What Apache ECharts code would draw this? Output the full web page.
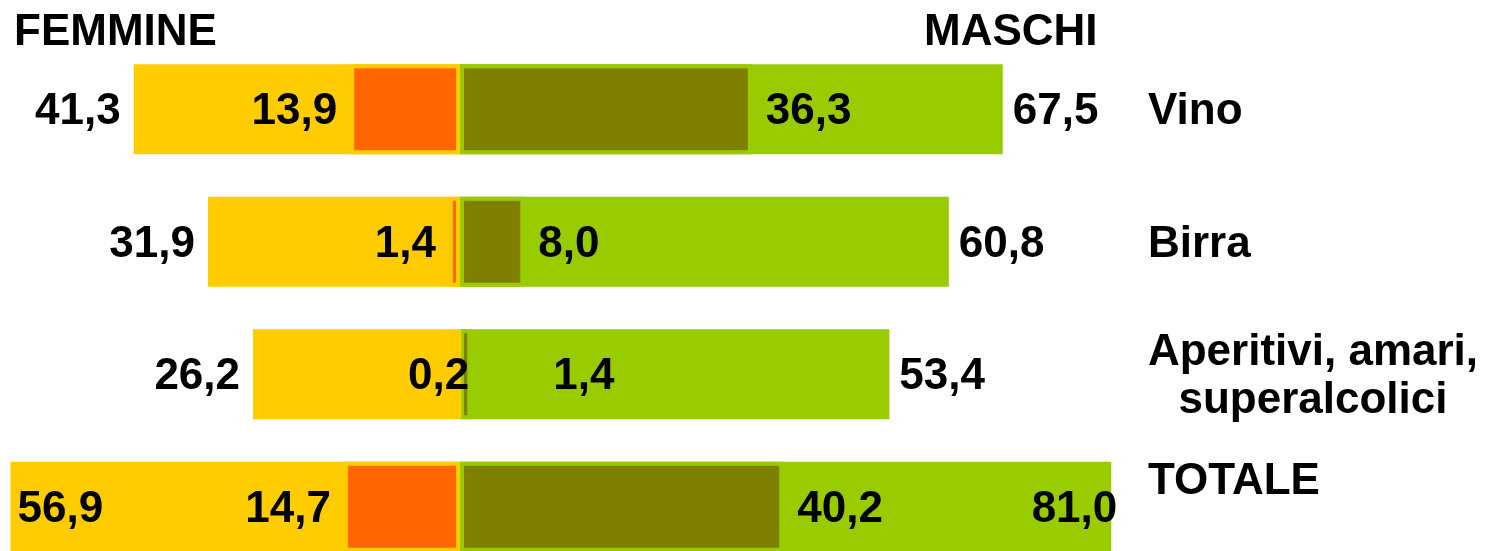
<!DOCTYPE html>
<html>
<head>
<meta charset="utf-8">
<script src="https://cdn.jsdelivr.net/npm/echarts@6/dist/echarts.min.js"></script>
<style>
  html, body { margin: 0; padding: 0; background: #ffffff; }
  #chart { width: 1489px; height: 551px; }
</style>
</head>
<body>
<div id="chart"></div>
<script>
// Categories (top to bottom)
const categories = ['Vino', 'Birra', 'Aperitivi, amari, superalcolici', 'TOTALE'];

// Femmine: total consumers and daily consumers (%)
const femmineTotale = [41.3, 31.9, 26.2, 56.9];
const femmineQuotidiano = [13.9, 1.4, 0.2, 14.7];

// Maschi: total consumers and daily consumers (%)
const maschiTotale = [67.5, 60.8, 53.4, 81.0];
const maschiQuotidiano = [36.3, 8.0, 1.4, 40.2];

const FONT = 'Liberation Sans, Arial, sans-serif';
const YELLOW = '#FFCC00', ORANGE = '#FF6600', GREEN = '#99CC00', OLIVE = '#808000';

const fmt = v => Math.abs(v).toFixed(1).replace('.', ',');

const baseLabel = {
  show: true,
  color: '#000',
  fontFamily: FONT,
  fontWeight: 'bold',
  fontSize: 44,
  offset: [0, 3],
  formatter: p => fmt(p.value)
};

// Per-bar label placement tweaks (index-based)
const femOuterLabel = i => (i === 3
  ? { position: 'insideLeft', distance: 7 }
  : { position: 'left', distance: 13 });
const femInnerLabel = i => (i === 2
  ? { position: 'left', distance: 13, offset: [25, 3] }
  : { position: 'left', distance: 13 });
const masInnerLabel = i => (i === 2
  ? { position: 'right', distance: 14, offset: [68, 3] }
  : { position: 'right', distance: 14 });
const masOuterLabel = i => (i === 3
  ? { position: 'insideRight', distance: 0, offset: [6, 3] }
  : { position: 'right', distance: 10 });

const items = (arr, sign, labelFn) => arr.map((v, i) => ({
  value: sign * v,
  label: labelFn(i)
}));

const titleStyle = { fontFamily: FONT, fontWeight: 'bold', fontSize: 44, color: '#000' };

const option = {
  animation: false,
  backgroundColor: '#ffffff',
  title: [
    { text: 'FEMMINE', left: 9, top: 6, textStyle: titleStyle },
    { text: 'MASCHI', left: 919, top: 6, textStyle: titleStyle }
  ],
  grid: { left: 0, top: 43, width: 1130, height: 530, outerBoundsMode: 'none', containLabel: false },
  xAxis: [
    // female scale (left of zero)
    { type: 'value', min: -58.23, max: 84.81, show: false },
    // male scale (right of zero)
    { type: 'value', min: -57.21, max: 83.33, show: false }
  ],
  yAxis: {
    type: 'category',
    data: categories,
    inverse: true,
    position: 'right',
    axisLine: { show: false },
    axisTick: { show: false },
    splitLine: { show: false },
    axisLabel: {
      margin: 18,
      align: 'left',
      color: '#000',
      fontFamily: FONT,
      fontWeight: 'bold',
      fontSize: 44,
      padding: [6, 0, 0, 0],
      formatter: function (v) {
        if (v === 'Aperitivi, amari, superalcolici') {
          return '{ap|Aperitivi, amari,}\n{ap|superalcolici}';
        }
        if (v === 'TOTALE') return '{tot|TOTALE}';
        return '{t|' + v + '}';
      },
      rich: {
        t: { fontFamily: FONT, fontWeight: 'bold', fontSize: 44, color: '#000' },
        ap: { fontFamily: FONT, fontWeight: 'bold', fontSize: 44, color: '#000',
              width: 330, align: 'center', lineHeight: 48 },
        tot: { fontFamily: FONT, fontWeight: 'bold', fontSize: 44, color: '#000',
               padding: [0, 0, 56, 0] }
      }
    }
  },
  series: [
    {
      name: 'Femmine totale', type: 'bar', xAxisIndex: 0,
      barWidth: 90, barGap: '-100%',
      itemStyle: { color: YELLOW },
      label: baseLabel,
      data: items(femmineTotale, -1, femOuterLabel),
      z: 1
    },
    {
      name: 'Maschi totale', type: 'bar', xAxisIndex: 1,
      barWidth: 90, barGap: '-100%',
      itemStyle: { color: GREEN, borderColor: GREEN, borderWidth: 4 },
      label: baseLabel,
      data: items(maschiTotale, 1, masOuterLabel),
      z: 2
    },
    {
      name: 'Maschi quotidiano', type: 'bar', xAxisIndex: 1,
      barWidth: 90, barGap: '-100%',
      itemStyle: { color: OLIVE, borderColor: GREEN, borderWidth: 4 },
      label: baseLabel,
      data: items(maschiQuotidiano, 1, masInnerLabel),
      z: 3
    },
    {
      // drawn last so its value labels sit above the male bars
      name: 'Femmine quotidiano', type: 'bar', xAxisIndex: 0,
      barWidth: 90, barGap: '-100%',
      itemStyle: { color: ORANGE, borderColor: YELLOW, borderWidth: 4 },
      label: baseLabel,
      data: items(femmineQuotidiano, -1, femInnerLabel),
      z: 4
    }
  ]
};

const chart = echarts.init(document.getElementById('chart'), null, { renderer: 'canvas' });
chart.setOption(option);
</script>
</body>
</html>
